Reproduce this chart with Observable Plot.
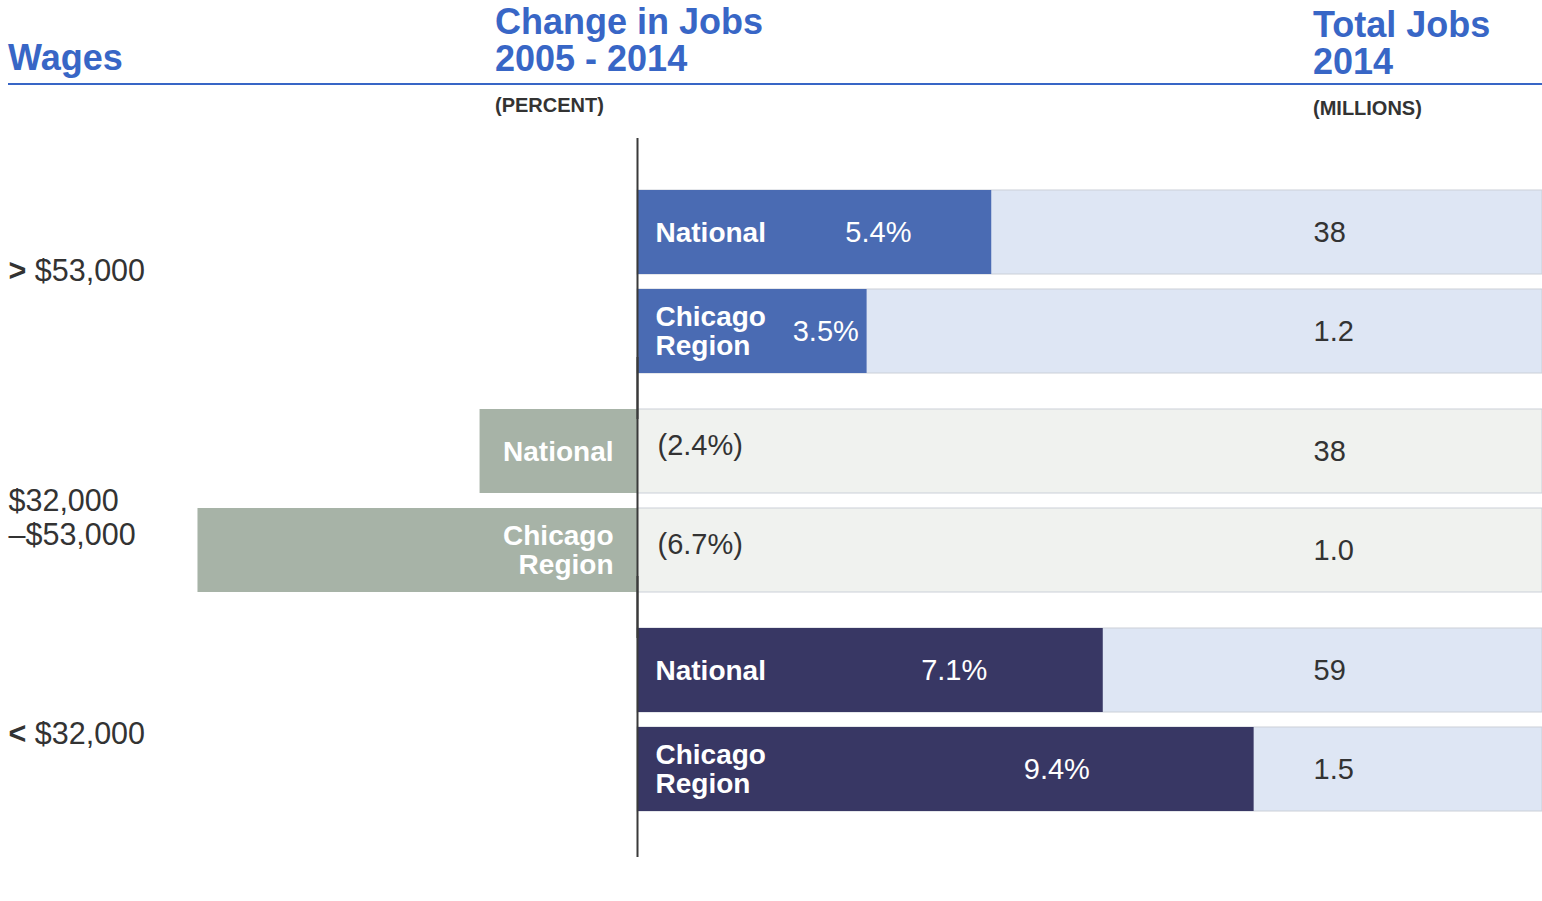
<!DOCTYPE html>
<html><head><meta charset="utf-8">
<script src="https://cdn.jsdelivr.net/npm/d3@7"></script>
<script src="https://cdn.jsdelivr.net/npm/@observablehq/plot@0.6"></script>
<style>
body{margin:0;background:#fff;font-family:"Liberation Sans",Arial,sans-serif;}
#header{position:relative;width:1542px;height:137px;}
.h{position:absolute;color:#3866c6;font-weight:bold;font-size:36px;line-height:37px;white-space:nowrap;}
.u{position:absolute;color:#333;font-weight:bold;font-size:20px;line-height:20px;white-space:nowrap;}
#rule{position:absolute;left:8px;top:83px;width:1534px;height:2px;background:#3866c6;}
#chart svg{display:block;}
</style></head><body>
<div id="header">
<div class="h" style="left:8px;top:39px">Wages</div>
<div class="h" style="left:495px;top:3px">Change in Jobs<br>2005 - 2014</div>
<div class="h" style="left:1313px;top:6px">Total Jobs<br>2014</div>
<div id="rule"></div>
<div class="u" style="left:495px;top:95px">(PERCENT)</div>
<div class="u" style="left:1313px;top:98px">(MILLIONS)</div>
</div>
<div id="chart"></div>
<script>
// ---- data ----
const wageGroups = ["> $53,000", "$32,000\n–$53,000", "< $32,000"];
const regions = ["National", "Chicago Region"];
const regionLabels = ["National", "Chicago\nRegion"];
const changeNational = [5.4, -2.4, 7.1];
const changeChicago = [3.5, -6.7, 9.4];
const totalNational = [38, 38, 59];
const totalChicago = [1.2, 1.0, 1.5];

// ---- styles ----
const barColors = ["#4a6bb3", "#a7b3a7", "#383764"];
const bandColors = ["#dee6f4", "#f0f2ef", "#dee6f4"];
const wageDy = [-12, 16, 13];
const FONT = "Liberation Sans, Arial, sans-serif";

const rows = [];
wageGroups.forEach((g, i) => {
  rows.push({group: g, region: regions[0], label: regionLabels[0], change: changeNational[i], total: totalNational[i], i});
  rows.push({group: g, region: regions[1], label: regionLabels[1], change: changeChicago[i], total: totalChicago[i], i});
});

const pxPerPct = 65.6, zeroX = 637, W = 1542;
const xDomain = [-zeroX / pxPerPct, (W - zeroX) / pxPerPct];
const minValueLabelX = 2.87;
const fmtPct = v => (Math.abs(v).toFixed(1)) + "%";
const fmtTotal = v => v < 10 ? v.toFixed(1) : String(v);

const chart = Plot.plot({
  width: W, height: 764,
  marginTop: 0, marginBottom: 44, marginLeft: 0, marginRight: 0,
  style: {fontFamily: FONT, background: "white"},
  x: {domain: xDomain, axis: null},
  y: {domain: regions, axis: null, paddingInner: 0.152, paddingOuter: 0},
  fy: {domain: wageGroups, axis: null, paddingInner: 0.1663, paddingOuter: 0.2232, align: 0.53},
  color: {type: "identity"},
  marks: [
    Plot.barX(rows, {x1: 0, x2: () => xDomain[1], y: "region", fy: "group", fill: d => bandColors[d.i], stroke: "#cbd0d8", strokeWidth: 1}),
    Plot.barX(rows, {x: "change", y: "region", fy: "group", fill: d => barColors[d.i]}),
    Plot.ruleX([0], {stroke: "#3a3a3a", strokeWidth: 2, insetTop: -52, insetBottom: -46}),
    // region labels
    Plot.text(rows.filter(d => d.change > 0), {x: 0, y: "region", fy: "group", text: "label", textAnchor: "start", dx: 18, fill: "white", fontWeight: "bold", fontSize: 28, lineHeight: 1.03}),
    Plot.text(rows.filter(d => d.change < 0), {x: 0, y: "region", fy: "group", text: "label", textAnchor: "end", dx: -24, fill: "white", fontWeight: "bold", fontSize: 28, lineHeight: 1.03}),
    // change values
    Plot.text(rows.filter(d => d.change > 0), {x: d => Math.max(0.68 * d.change, minValueLabelX), y: "region", fy: "group", text: d => fmtPct(d.change), fill: "white", fontSize: 29}),
    Plot.text(rows.filter(d => d.change < 0), {x: 0, y: "region", fy: "group", text: d => "(" + fmtPct(d.change) + ")", textAnchor: "start", dx: 20, dy: -6, fill: "#333", fontSize: 29}),
    // totals
    Plot.text(rows, {y: "region", fy: "group", text: d => fmtTotal(d.total), frameAnchor: "right", textAnchor: "start", dx: -(W - 1313), fill: "#333", fontSize: 29}),
    // wage labels
    ...wageGroups.map((g, i) => Plot.text([g], {fy: d => d, text: d => d, frameAnchor: "left", textAnchor: "start", dx: 8, dy: wageDy[i], fill: "#333", fontSize: 30.5, lineHeight: 1.12}))
  ]
});

document.getElementById("chart").appendChild(chart);

// bold comparison symbols in wage labels
d3.select(chart).selectAll("text").each(function() {
  const t = this.textContent;
  if (/^[<>] \$/.test(t) && this.childElementCount === 0) {
    this.textContent = "";
    d3.select(this).append("tspan").attr("font-weight", "bold").text(t[0]);
    d3.select(this).append("tspan").text(t.slice(1));
  }
});
</script>
</body></html>
